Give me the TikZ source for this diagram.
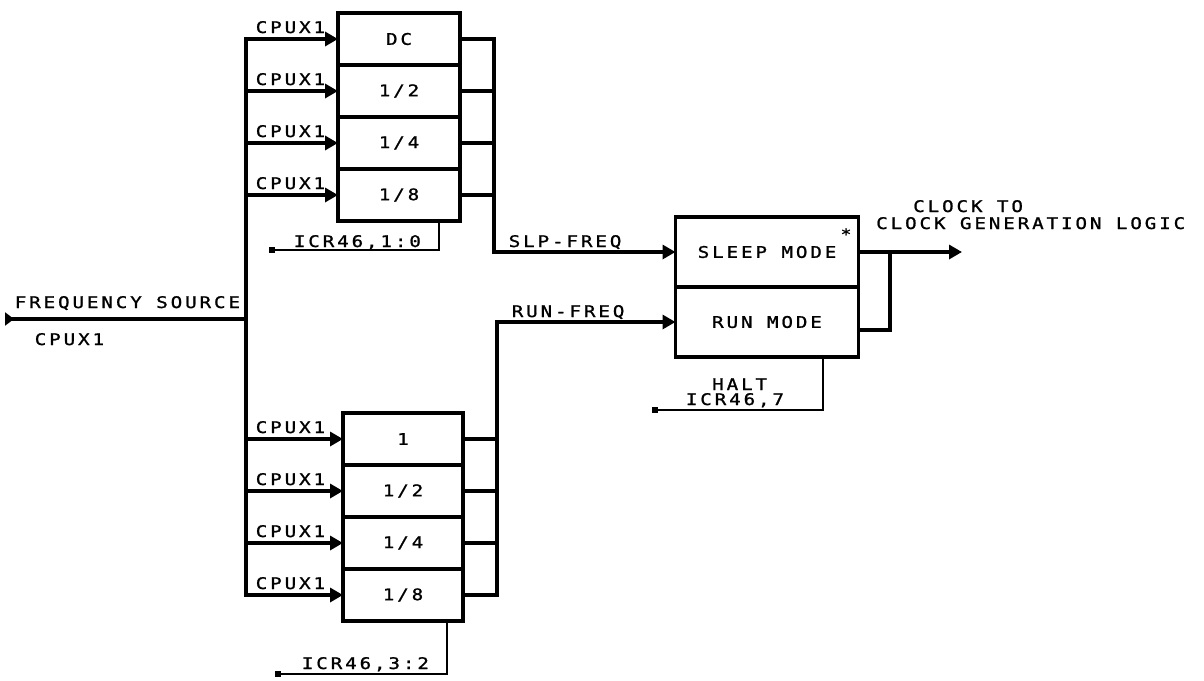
\documentclass[tikz,border=0pt]{standalone}
\usepackage{fontspec}
\newfontfamily\plotfont{DejaVu Sans Mono}[FakeStretch=1.2,LetterSpace=18,FakeBold=1.2]
\usetikzlibrary{arrows.meta,positioning}

\begin{document}
\begin{tikzpicture}
[
	x=1pt,y=-1pt,
	every node/.style={font=\plotfont\fontsize{16}{16}\selectfont},
	divbox/.style={draw,line width=3.5pt,outer sep=0pt,inner sep=0pt,minimum width=122pt,minimum height=52pt},
	modebox/.style={draw,line width=3.5pt,outer sep=0pt,inner sep=0pt,minimum width=183pt,minimum height=70pt},
	wire/.style={line width=3.5pt,line cap=rect},
	feed/.style={line width=3.5pt,line cap=rect,-{Triangle[length=13pt,width=14pt]}},
	ctl/.style={line width=1.3pt},
	sq/.style={fill,inner sep=0pt,minimum size=6pt},
	lbl/.style={inner sep=0pt,anchor=base west}
]

	\useasboundingbox (0,0) rectangle (1204,680);

	% sleep dividers
	\node[divbox] at (399,39) (dc) {DC\hspace{16pt}};
	\node[divbox,below=0pt of dc] (sa2) {1/2\hspace{16pt}};
	\node[divbox,below=0pt of sa2] (sa4) {1/4\hspace{16pt}};
	\node[divbox,below=0pt of sa4] (sa8) {1/8\hspace{16pt}};

	% run dividers
	\node[divbox,minimum width=120pt] at (403,439) (r1) {1};
	\node[divbox,minimum width=120pt,below=0pt of r1] (r2) {1/2};
	\node[divbox,minimum width=120pt,below=0pt of r2] (r4) {1/4};
	\node[divbox,minimum width=120pt,below=0pt of r4] (r8) {1/8};

	% mode select
	\node[modebox] at (767,252) (sleep) {SLEEP MODE};
	\node[modebox,below=0pt of sleep] (run) {RUN MODE\hspace{18pt}};
	\node[inner sep=0pt,font=\plotfont\fontsize{15}{15}\selectfont] at (846,234) (mark) {*};

	% frequency source
	\coordinate (fsrc) at (5,319);
	\coordinate (bus) at (246,319);
	\draw[wire,{Triangle[reversed,length=9pt,width=13pt]}-] (fsrc) -- (bus)
		node[lbl,pos=0,xshift=8pt,yshift=11pt] {FREQUENCY SOURCE}
		node[lbl,pos=0,xshift=28pt,yshift=-26pt] {CPUX1};
	\draw[wire] (bus |- dc.west) -- (bus |- r8.west);

	\foreach \n in {dc,sa2,sa4,sa8,r1,r2,r4,r8}
		\draw[feed] (bus |- \n.west) -- (\n.west)
			node[lbl,pos=0,xshift=8pt,yshift=6pt] {CPUX1};

	% slp-freq
	\coordinate (slpbus) at (494,0);
	\foreach \n in {sa2,sa4,sa8}
		\draw[wire] (\n.east) -- (\n.east -| slpbus);
	\draw[feed] (dc.east) -| (slpbus |- sleep.west) -- (sleep.west)
		node[lbl,pos=0,xshift=13pt,yshift=5pt] {SLP-FREQ};

	% run-freq
	\coordinate (runbus) at (497,0);
	\foreach \n in {r1,r2,r4}
		\draw[wire] (\n.east) -- (\n.east -| runbus);
	\draw[feed] (r8.east) -| (runbus |- run.west) -- (run.west)
		node[lbl,pos=0,xshift=13pt,yshift=5pt] {RUN-FREQ};

	% clock out
	\coordinate (clkbus) at (890,0);
	\coordinate (clk) at (962,252);
	\draw[feed] (sleep.east) -- (clk);
	\draw[wire] ([yshift=-8pt]run.east) -| (clkbus |- sleep.east);
	\node[lbl] at (913,212) (clkto) {CLOCK TO};
	\node[lbl] at (876,229) (clkgen) {CLOCK GENERATION LOGIC};

	% selects
	\coordinate (slpsel) at (439,0);
	\node[sq] at (272,250) (slpsq) {};
	\draw[ctl] (slpsel |- sa8.south) |- (slpsq)
		node[lbl,pos=1,xshift=18pt,yshift=3pt] {ICR46,1:0};

	\coordinate (runsel) at (447,0);
	\node[sq] at (278,674) (runsq) {};
	\draw[ctl] (runsel |- r8.south) |- (runsq)
		node[lbl,pos=1,xshift=20pt,yshift=5pt] {ICR46,3:2};

	\coordinate (haltsel) at (823,0);
	\node[sq] at (655,410) (haltsq) {};
	\draw[ctl] (haltsel |- run.south) |- (haltsq)
		node[lbl,pos=1,xshift=27pt,yshift=5pt] {ICR46,7};
	\node[lbl] at (712,390) (halt) {HALT};

\end{tikzpicture}
\end{document}
